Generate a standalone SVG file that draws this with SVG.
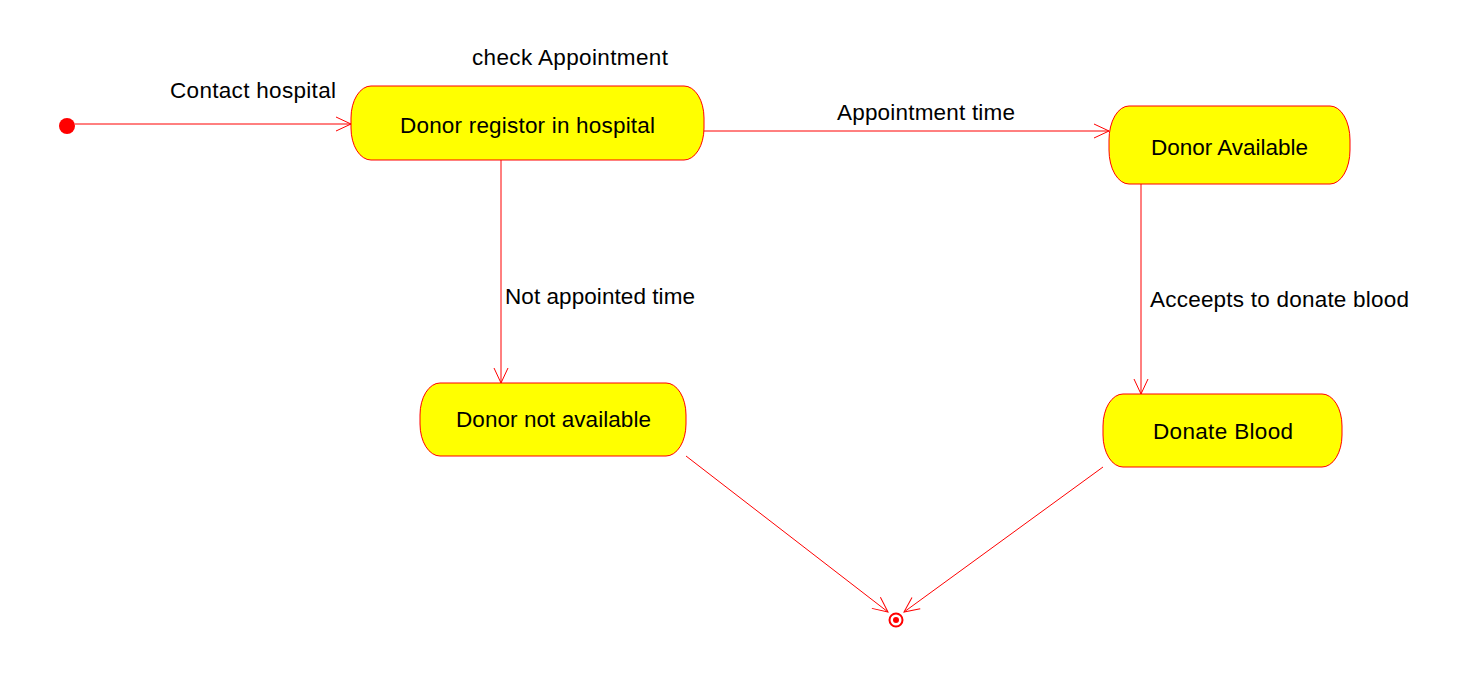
<svg xmlns="http://www.w3.org/2000/svg" width="1457" height="686" viewBox="0 0 1457 686">
<style>
.st{fill:#ffff00;stroke:#ff0000;stroke-width:1}
.t{font-family:"Liberation Sans",Arial,sans-serif;font-size:22.5px;fill:#000}
.c{fill:none;stroke:#ff0000;stroke-width:1}
</style>
<defs>
<marker id="a" markerWidth="20" markerHeight="20" refX="16" refY="8" orient="auto" markerUnits="userSpaceOnUse">
<path d="M1,1 L16,8 L1,15" fill="none" stroke="#ff0000" stroke-width="1"/>
</marker>
</defs>
<rect width="1457" height="686" fill="#fff"/>
<g id="connectors">
<line class="c" x1="75" y1="124" x2="351" y2="124" marker-end="url(#a)"/>
<line class="c" x1="704" y1="131" x2="1109" y2="131" marker-end="url(#a)"/>
<line class="c" x1="501" y1="160" x2="501" y2="383" marker-end="url(#a)"/>
<line class="c" x1="1141" y1="184" x2="1141" y2="394" marker-end="url(#a)"/>
<line class="c" x1="686" y1="456" x2="888" y2="612" marker-end="url(#a)"/>
<line class="c" x1="1103" y1="467" x2="904" y2="612" marker-end="url(#a)"/>
<text class="t" x="170" y="98" textLength="166" lengthAdjust="spacing">Contact hospital</text>
<text class="t" x="472" y="65" textLength="196" lengthAdjust="spacing">check Appointment</text>
<text class="t" x="837" y="120" textLength="178" lengthAdjust="spacing">Appointment time</text>
<text class="t" x="505" y="304" textLength="190" lengthAdjust="spacing">Not appointed time</text>
<text class="t" x="1150" y="307" textLength="259" lengthAdjust="spacing">Acceepts to donate blood</text>
</g>
<g id="initial"><circle cx="67" cy="126" r="8" fill="#ff0000"/></g>
<g id="final"><circle cx="896" cy="620" r="6.5" fill="none" stroke="#ff0000" stroke-width="2"/><circle cx="896" cy="620" r="3" fill="#ff0000"/></g>
<g id="registor"><rect class="st" x="351" y="86" width="353" height="74" rx="20" ry="32"/><text class="t" x="400" y="133" textLength="255" lengthAdjust="spacing">Donor registor in hospital</text></g>
<g id="available"><rect class="st" x="1109" y="106" width="241" height="78" rx="20" ry="34"/><text class="t" x="1151" y="155" textLength="157" lengthAdjust="spacing">Donor Available</text></g>
<g id="notavailable"><rect class="st" x="420" y="383" width="266" height="73" rx="20" ry="32"/><text class="t" x="456" y="427" textLength="195" lengthAdjust="spacing">Donor not available</text></g>
<g id="donate"><rect class="st" x="1103" y="394" width="239" height="73" rx="20" ry="32"/><text class="t" x="1153" y="439" textLength="140" lengthAdjust="spacing">Donate Blood</text></g>
</svg>
